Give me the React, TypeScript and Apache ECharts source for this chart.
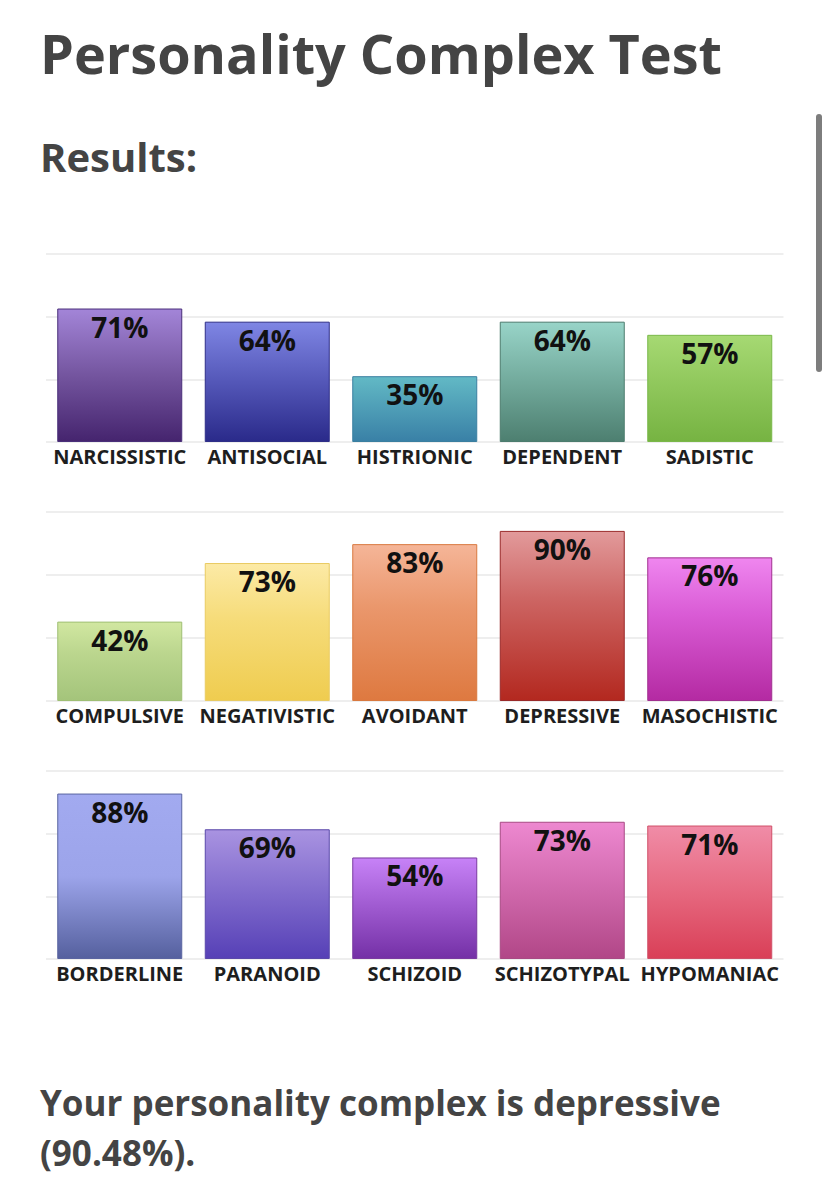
import React, { useEffect, useRef } from "react";
import * as echarts from "echarts";

const categoriesRow1 = ["NARCISSISTIC", "ANTISOCIAL", "HISTRIONIC", "DEPENDENT", "SADISTIC"];
const valuesRow1 = [71, 64, 35, 64, 57];
const categoriesRow2 = ["COMPULSIVE", "NEGATIVISTIC", "AVOIDANT", "DEPRESSIVE", "MASOCHISTIC"];
const valuesRow2 = [42, 73, 83, 90, 76];
const categoriesRow3 = ["BORDERLINE", "PARANOID", "SCHIZOID", "SCHIZOTYPAL", "HYPOMANIAC"];
const valuesRow3 = [88, 69, 54, 73, 71];

// [top colour, middle colour, bottom colour, border colour]
const colorsRow1 = [
  ["#a385d8", "#74559f", "#45246e", "#4a2f7a"],
  ["#7f86e4", "#5457b8", "#2a2a8a", "#2f2f88"],
  ["#62b9c5", "#4e9db6", "#3980a6", "#3a7fa0"],
  ["#98d4c8", "#72aa9c", "#4d7f70", "#4c7c6e"],
  ["#a6d973", "#8ec65a", "#76b342", "#7ab84a"],
];
const colorsRow2 = [
  ["#d1e7a1", "#bbd68e", "#a4c47b", "#9fbf74"],
  ["#fceaa6", "#f6dc7a", "#efcc4f", "#e9cb62"],
  ["#f5b598", "#ea976c", "#de7940", "#d9793f"],
  ["#e29a9b", "#cd6563", "#b3281f", "#9a2a2a"],
  ["#ef86ef", "#d95bd5", "#b42aa2", "#a0308f"],
];
const colorsRow3 = [
  ["#a2aaf0", "#9ca4ea", "#55609e", "#5a64a0"],
  ["#a993e1", "#7f6acc", "#5640b6", "#5a48aa"],
  ["#c782f7", "#9e59cf", "#7430a6", "#7a3aa0"],
  ["#ed88d0", "#d068ac", "#b14787", "#a84a84"],
  ["#f08ca7", "#e6687f", "#d93f57", "#d05068"],
];
const middleStops = [0.5, 0.4, 0.5];

const titleText = "Personality Complex Test";
const subtitleText = "Results:";
const resultLine1 = "Your personality complex is depressive";
const resultLine2 = "(90.48%).";

const gridTops = [254, 512, 771];
const gridHeights = [188, 189, 188];

export default function App() {
  const ref = useRef<HTMLDivElement>(null);

  useEffect(() => {
    if (!ref.current) return;
    const chart = echarts.init(ref.current, null, { renderer: "svg" });
    const rows = [
      { cats: categoriesRow1, vals: valuesRow1, cols: colorsRow1 },
      { cats: categoriesRow2, vals: valuesRow2, cols: colorsRow2 },
      { cats: categoriesRow3, vals: valuesRow3, cols: colorsRow3 },
    ];

    const grid = rows.map((_, i) => ({
      left: 46,
      right: 44.5,
      top: gridTops[i],
      height: gridHeights[i],
      containLabel: false,
    }));

    const xAxis = rows.map((r, i) => ({
      type: "category",
      gridIndex: i,
      data: r.cats,
      axisLine: { show: false },
      axisTick: { show: false },
      axisLabel: {
        interval: 0,
        margin: 4,
        color: "#1e1e1e",
        fontFamily: "Open Sans",
        fontWeight: "bold",
        fontSize: 20,
      },
    }));

    const yAxis = rows.map((_, i) => ({
      type: "value",
      gridIndex: i,
      min: 0,
      max: 100,
      interval: 100 / 3,
      axisLabel: { show: false },
      axisLine: { show: false },
      axisTick: { show: false },
      splitLine: { show: true, lineStyle: { color: "#e9e9e9", width: 1.5 } },
    }));

    const series = rows.map((r, i) => ({
      type: "bar",
      xAxisIndex: i,
      yAxisIndex: i,
      barWidth: 125,
      data: r.vals.map((v, j) => ({
        value: v,
        itemStyle: {
          color: new echarts.graphic.LinearGradient(0, 0, 0, 1, [
            { offset: 0, color: r.cols[j][0] },
            { offset: middleStops[i], color: r.cols[j][1] },
            { offset: 1, color: r.cols[j][2] },
          ]),
          borderColor: r.cols[j][3],
          borderWidth: 1,
        },
      })),
      label: {
        show: true,
        position: "insideTop",
        distance: 4,
        formatter: "{c}%",
        color: "#111",
        fontFamily: "Open Sans",
        fontWeight: "bold",
        fontSize: 28,
      },
    }));

    const txt = (text: string, y: number, size: number) => ({
      type: "text",
      x: 40,
      y,
      style: {
        text,
        fill: "#444444",
        font: `bold ${size}px 'Open Sans'`,
        align: "left",
        verticalAlign: "middle",
        textAlign: "left",
        textVerticalAlign: "middle",
      },
    });

    chart.setOption({
      animation: false,
      backgroundColor: "#ffffff",
      grid,
      xAxis,
      yAxis,
      series,
      graphic: [
        txt(titleText, 53, 54),
        txt(subtitleText, 156, 40),
        txt(resultLine1, 1102, 35),
        txt(resultLine2, 1152, 35),
        {
          type: "rect",
          shape: { x: 816, y: 114, width: 6, height: 258, r: 3 },
          style: { fill: "#7d7d7d" },
        },
      ],
    });
    return () => chart.dispose();
  }, []);

  return (
    <div
      ref={ref}
      style={{ position: "absolute", left: 0, top: 0, width: 828, height: 1193 }}
    />
  );
}
